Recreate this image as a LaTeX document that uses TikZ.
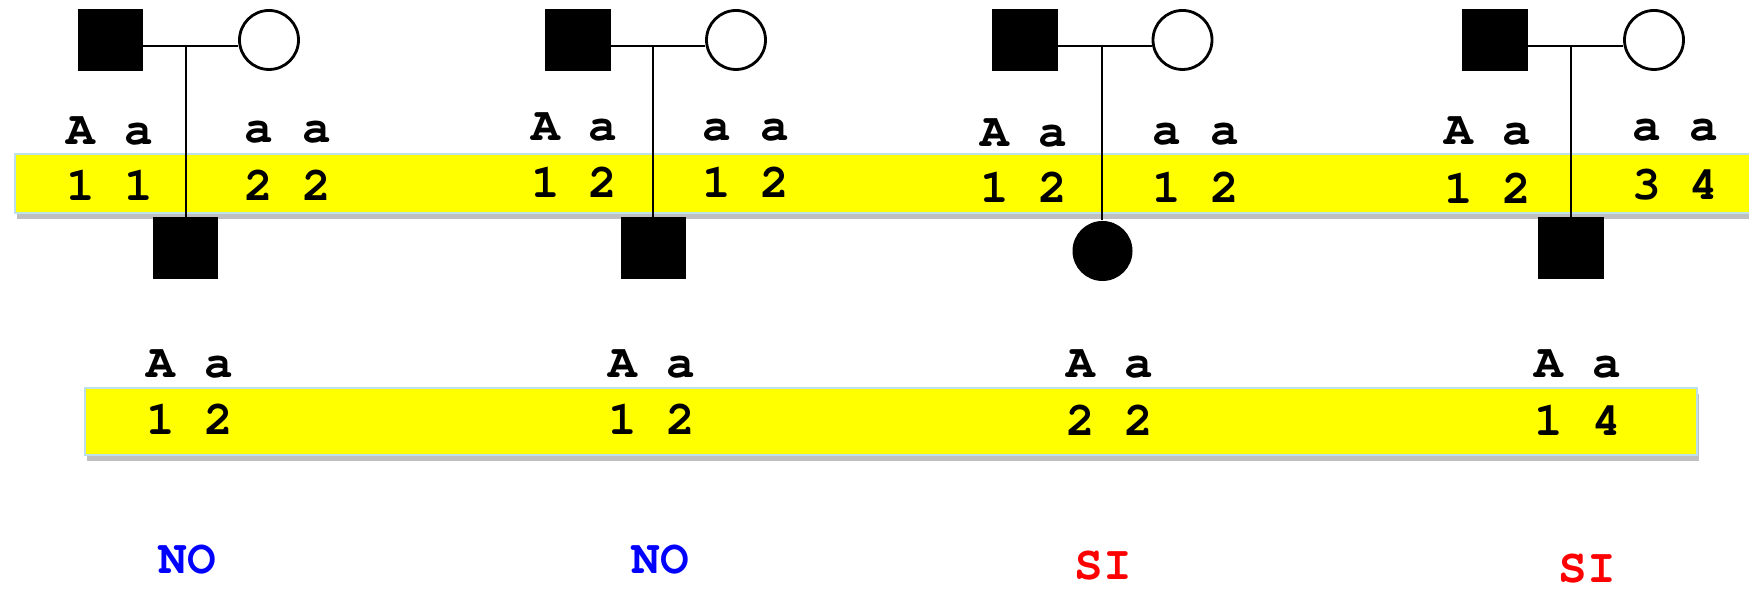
\documentclass[tikz,border=0pt]{standalone}
\usepackage{xcolor}
\usepackage{tikz}
\usetikzlibrary{shadows}
\definecolor{bandedge}{RGB}{190,224,234}
\definecolor{bandfill}{RGB}{255,255,0}
\newcommand{\allelefont}{\fontencoding{T1}\fontfamily{pcr}\fontseries{b}\selectfont\fontsize{13.6}{16}\selectfont}
\tikzset{
	band/.style={fill=bandfill, draw=bandedge, line width=0.6pt,
		drop shadow={shadow xshift=0.2mm, shadow yshift=-0.6mm, opacity=0.5, fill=gray}},
	male/.style={draw=black, fill=black, minimum width=0.64cm, minimum height=0.61cm, inner sep=0pt},
	female/.style={circle, draw=black, line width=0.8pt, fill=white, minimum size=0.59cm, inner sep=0pt},
	affected/.style={circle, fill=black, minimum size=0.60cm, inner sep=0pt},
	allele/.style={inner sep=0pt, font=\allelefont},
	verdict/.style={inner sep=0pt, font=\allelefont},
	pline/.style={draw=black, line width=0.6pt},
}
\begin{document}
\begin{tikzpicture}
	\useasboundingbox (0, 0) rectangle (17.49, 5.90);
	
	% bands
	\filldraw[band] (0.15, 3.77) rectangle (17.60, 4.36);
	\filldraw[band] (0.85, 1.35) rectangle (16.97, 2.02);
	
	% parents
	\node[male]   (f1) at (1.105, 5.50) {};
	\node[female] (m1) at (2.69, 5.50) {};
	\node[male]   (f2) at (5.78, 5.50) {};
	\node[female] (m2) at (7.36, 5.50) {};
	\node[male]   (f3) at (10.25, 5.50) {};
	\node[female] (m3) at (11.825, 5.50) {};
	\node[male]   (f4) at (14.95, 5.50) {};
	\node[female] (m4) at (16.54, 5.50) {};
	
	% children
	\node[male]     (c1) at (1.855, 3.42) {};
	\node[male]     (c2) at (6.535, 3.42) {};
	\node[affected] (c3) at (11.025, 3.39) {};
	\node[male]     (c4) at (15.71, 3.42) {};
	
	% mating and descent lines
	\coordinate (j1) at (1.857, 5.443);
	\coordinate (j2) at (6.53, 5.443);
	\coordinate (j3) at (11.02, 5.443);
	\coordinate (j4) at (15.71, 5.443);
	\draw[pline] (f1.east |- j1) -- (m1.west |- j1);
	\draw[pline] (f2.east |- j2) -- (m2.west |- j2);
	\draw[pline] (f3.east |- j3) -- (m3.west |- j3);
	\draw[pline] (f4.east |- j4) -- (m4.west |- j4);
	\draw[pline] (j1) -- (j1 |- c1.north);
	\draw[pline] (j2) -- (j2 |- c2.north);
	\draw[pline] (j3) -- (j3 |- c3.north);
	\draw[pline] (j4) -- (j4 |- c4.north);
	
	% parent alleles
	\node[allele] (f1a) at (1.10, 4.58) {A a};
	\node[allele] (f1n) at (1.10, 4.05) {1 1};
	\node[allele] (m1a) at (2.88, 4.58) {a a};
	\node[allele] (m1n) at (2.88, 4.05) {2 2};
	\node[allele] (f2a) at (5.745, 4.62) {A a};
	\node[allele] (f2n) at (5.745, 4.08) {1 2};
	\node[allele] (m2a) at (7.46, 4.60) {a a};
	\node[allele] (m2n) at (7.46, 4.08) {1 2};
	\node[allele] (f3a) at (10.24, 4.56) {A a};
	\node[allele] (f3n) at (10.24, 4.03) {1 2};
	\node[allele] (m3a) at (11.96, 4.56) {a a};
	\node[allele] (m3n) at (11.96, 4.03) {1 2};
	\node[allele] (f4a) at (14.88, 4.58) {A a};
	\node[allele] (f4n) at (14.88, 4.02) {1 2};
	\node[allele] (m4a) at (16.75, 4.60) {a a};
	\node[allele] (m4n) at (16.75, 4.05) {3 4};
	
	% children alleles
	\node[allele] (c1a) at (1.90, 2.25) {A a};
	\node[allele] (c1n) at (1.90, 1.71) {1 2};
	\node[allele] (c2a) at (6.52, 2.25) {A a};
	\node[allele] (c2n) at (6.52, 1.71) {1 2};
	\node[allele] (c3a) at (11.10, 2.25) {A a};
	\node[allele] (c3n) at (11.10, 1.70) {2 2};
	\node[allele] (c4a) at (15.78, 2.25) {A a};
	\node[allele] (c4n) at (15.78, 1.70) {1 4};
	
	% verdicts
	\node[verdict, text=blue] (v1) at (1.87, 0.30) {NO};
	\node[verdict, text=blue] (v2) at (6.60, 0.30) {NO};
	\node[verdict, text=red]  (v3) at (11.03, 0.24) {SI};
	\node[verdict, text=red]  (v4) at (15.87, 0.21) {SI};
	
\end{tikzpicture}
\end{document}
